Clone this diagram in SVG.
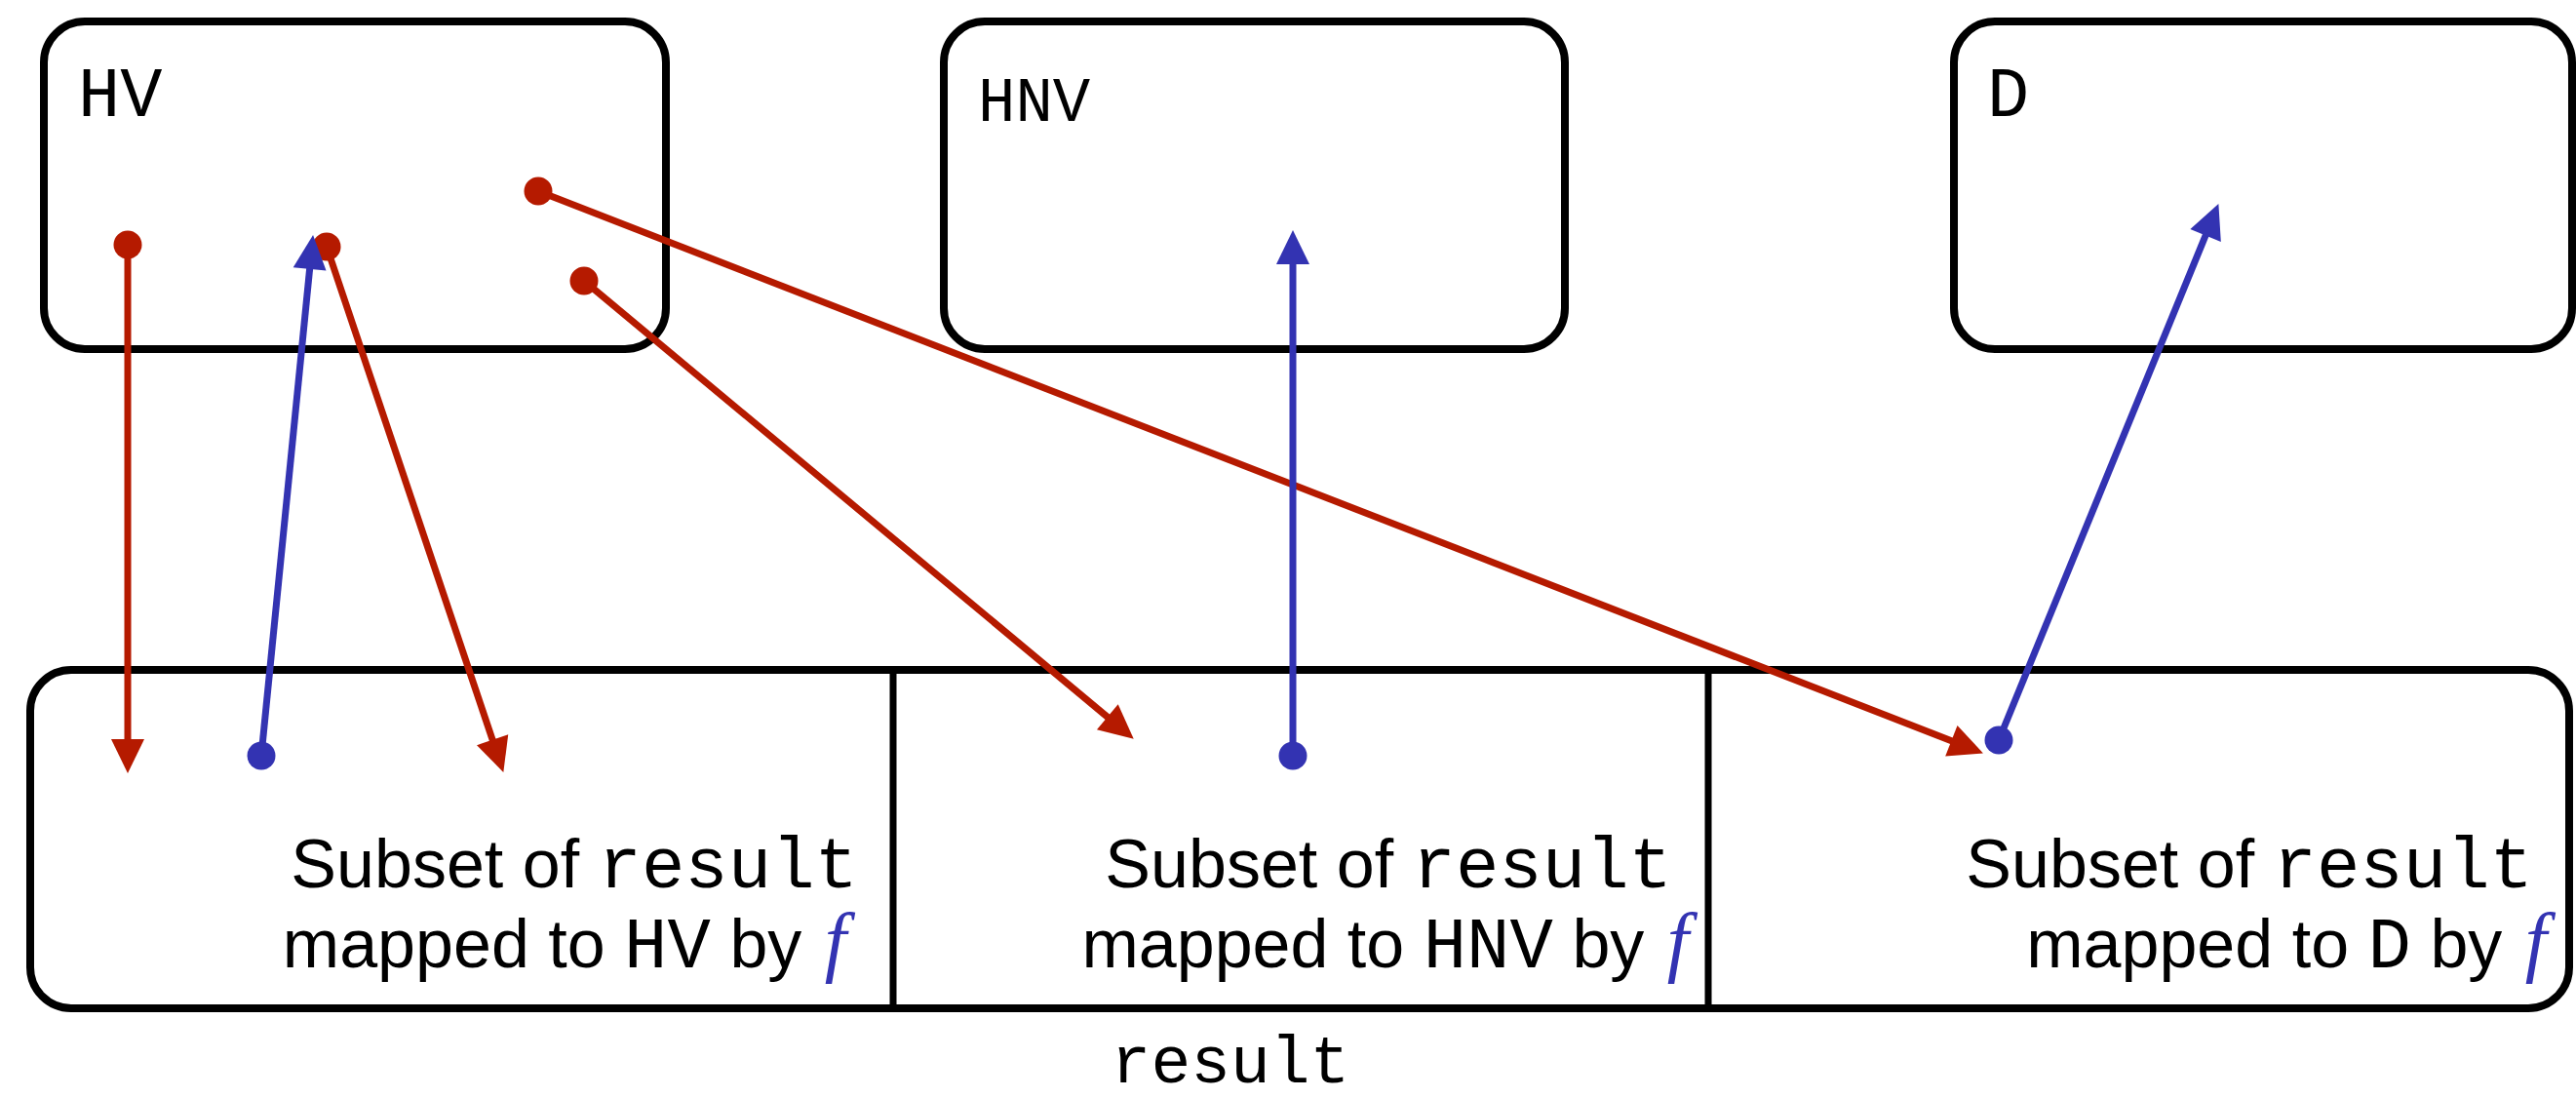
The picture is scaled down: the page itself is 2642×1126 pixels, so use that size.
<svg xmlns="http://www.w3.org/2000/svg" width="2642" height="1126" viewBox="0 0 2642 1126">
  <style>
    .box { fill: #ffffff; stroke: #000000; stroke-width: 8; }
    .div { stroke: #000000; stroke-width: 7; fill: none; }
    .tt { font-family: "Liberation Mono", "DejaVu Sans Mono", monospace; fill: #000000; }
    .sans { font-family: "Liberation Sans", Arial, sans-serif; fill: #000000; }
    .fn { font-family: "Liberation Serif", "DejaVu Serif", serif; font-style: italic; fill: #3333b2; }
    .red { stroke: #b51a00; stroke-width: 7; fill: none; marker-start: url(#dotRed); marker-end: url(#headRed); }
    .blue { stroke: #3333b2; stroke-width: 7; fill: none; marker-start: url(#dotBlue); marker-end: url(#headBlue); }
  </style>
  <defs>
    <marker id="headRed" markerUnits="userSpaceOnUse" viewBox="0 -18 35 36" refX="14" refY="0" markerWidth="35" markerHeight="36" orient="auto" overflow="visible">
      <path d="M0,-17 L35,0 L0,17 Z" fill="#b51a00"/>
    </marker>
    <marker id="headBlue" markerUnits="userSpaceOnUse" viewBox="0 -18 35 36" refX="14" refY="0" markerWidth="35" markerHeight="36" orient="auto" overflow="visible">
      <path d="M0,-17 L35,0 L0,17 Z" fill="#3333b2"/>
    </marker>
    <marker id="dotRed" markerUnits="userSpaceOnUse" viewBox="-15 -15 30 30" refX="0" refY="0" markerWidth="30" markerHeight="30" overflow="visible">
      <circle cx="0" cy="0" r="14.5" fill="#b51a00"/>
    </marker>
    <marker id="dotBlue" markerUnits="userSpaceOnUse" viewBox="-15 -15 30 30" refX="0" refY="0" markerWidth="30" markerHeight="30" overflow="visible">
      <circle cx="0" cy="0" r="14.5" fill="#3333b2"/>
    </marker>
  </defs>

  <rect width="2642" height="1126" fill="#ffffff"/>

  <!-- source sets -->
  <g id="node-HV">
    <rect class="box" x="45" y="22" width="638" height="336" rx="42" ry="42"/>
    <text class="tt" x="80" y="119" font-size="72">HV</text>
  </g>
  <g id="node-HNV">
    <rect class="box" x="968" y="22" width="637" height="336" rx="42" ry="42"/>
    <text class="tt" x="1003" y="124" font-size="64">HNV</text>
  </g>
  <g id="node-D">
    <rect class="box" x="2004" y="22" width="634" height="336" rx="42" ry="42"/>
    <text class="tt" x="2038" y="119" font-size="72">D</text>
  </g>

  <!-- result array split into three cells -->
  <g id="node-result">
    <rect class="box" x="31" y="687" width="2604" height="347" rx="42" ry="42"/>
    <line class="div" x1="916" y1="687" x2="916" y2="1034"/>
    <line class="div" x1="1752" y1="687" x2="1752" y2="1034"/>
    <text class="tt" x="1262" y="1110" font-size="68" text-anchor="middle">result</text>
  </g>
  <g id="cell-HV">
    <text x="880" y="910" text-anchor="end"><tspan class="sans" font-size="70">Subset of </tspan><tspan class="tt" font-size="74">result</tspan></text>
    <text x="868" y="992" text-anchor="end"><tspan class="sans" font-size="70">mapped to </tspan><tspan class="tt" font-size="74">HV</tspan><tspan class="sans" font-size="70"> by </tspan><tspan class="fn" font-size="80" dx="4">f</tspan></text>
  </g>
  <g id="cell-HNV">
    <text x="1715" y="910" text-anchor="end"><tspan class="sans" font-size="70">Subset of </tspan><tspan class="tt" font-size="74">result</tspan></text>
    <text x="1732" y="992" text-anchor="end"><tspan class="sans" font-size="70">mapped to </tspan><tspan class="tt" font-size="74">HNV</tspan><tspan class="sans" font-size="70"> by </tspan><tspan class="fn" font-size="80" dx="4">f</tspan></text>
  </g>
  <g id="cell-D">
    <text x="2598" y="910" text-anchor="end"><tspan class="sans" font-size="70">Subset of </tspan><tspan class="tt" font-size="74">result</tspan></text>
    <text x="2612" y="992" text-anchor="end"><tspan class="sans" font-size="70">mapped to </tspan><tspan class="tt" font-size="74">D</tspan><tspan class="sans" font-size="70"> by </tspan><tspan class="fn" font-size="80" dx="4">f</tspan></text>
  </g>

  <!-- connectors: red = pointers into result, blue = f mapping back -->
  <g id="connectors">
    <path class="red" d="M131,251 L131,772"/>
    <path class="red" d="M335,253 L509.6,772"/>
    <path class="red" d="M599,288 L1146.6,744.2"/>
    <path class="red" d="M552,196 L2014.4,764.8"/>
    <path class="blue" d="M268,775 L319,261.9"/>
    <path class="blue" d="M1326,775 L1326,257"/>
    <path class="blue" d="M2050,759 L2267.4,228.5"/>
  </g>
</svg>
